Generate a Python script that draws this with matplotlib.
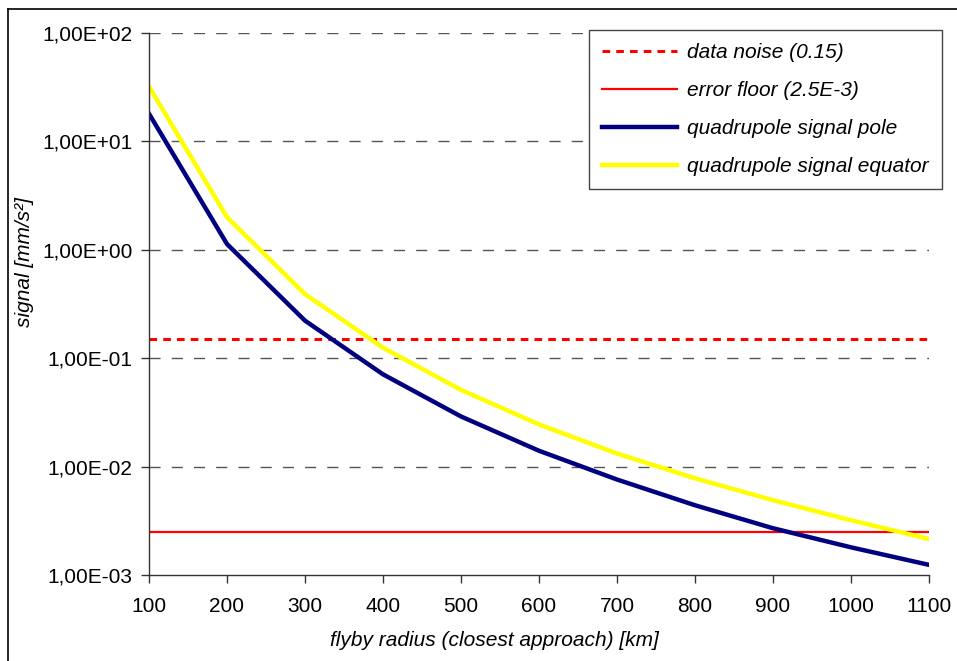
import matplotlib.pyplot as plt
from matplotlib.lines import Line2D
from matplotlib.ticker import FixedLocator, FuncFormatter, NullLocator

plt.rcParams['font.family'] = ['Liberation Sans', 'DejaVu Sans']

# flyby radius [km]
radius = [100, 200, 300, 400, 500, 600, 700, 800, 900, 1000, 1100]
# signals [mm/s^2]
pole = [18.0, 1.13, 0.222, 0.071, 0.029, 0.0140, 0.0076, 0.0044, 0.0027, 0.0018, 0.00124]
equator = [32.0, 2.0, 0.39, 0.125, 0.051, 0.0245, 0.0132, 0.0078, 0.0049, 0.0032, 0.00215]
noise = 0.15
floor = 2.5e-3
decades = [1e-3, 1e-2, 1e-1, 1e0, 1e1, 1e2]

fig = plt.figure(figsize=(9.57, 6.61), dpi=100)
ax = fig.add_axes([149/957, 1-575/661, (929-149)/957, (575-33)/661])

# dashed gridlines, skipping the bottom one (that's the axis)
for d in decades[1:]:
    ax.axhline(d, color='#555555', ls=(0, (8, 8)), lw=1, zorder=0.5)

ax.plot(radius, [noise]*len(radius), color='#ff0000', lw=2.2, ls=(0, (2.5, 2)),
        label='data noise (0.15)')
ax.plot(radius, [floor]*len(radius), color='#ff0000', lw=1.6, label='error floor (2.5E-3)')
ax.plot(radius, pole, color='#000080', lw=3.2, label='quadrupole signal pole')
ax.plot(radius, equator, color='#ffff00', lw=3.2, label='quadrupole signal equator')

ax.set_yscale('log')
ax.set_ylim(1e-3, 1e2)
ax.set_xlim(100, 1100)
ax.xaxis.set_major_locator(FixedLocator(radius))
ax.yaxis.set_major_locator(FixedLocator(decades))
ax.yaxis.set_minor_locator(NullLocator())
ax.yaxis.set_major_formatter(FuncFormatter(lambda v, p: f"{v:.2E}".replace('.', ',')))
ax.tick_params(labelsize=15, direction='out', length=6, color='#333333', width=1)
ax.tick_params(axis='y', pad=6)
ax.tick_params(axis='x', pad=10)

for s in ['top', 'right']:
    ax.spines[s].set_visible(False)
for s in ['left', 'bottom']:
    ax.spines[s].set_color('#333333')
    ax.spines[s].set_linewidth(1)

fig.text(24/957, 1-262/661, 'signal [mm/s²]', rotation=90, style='italic',
         fontsize=15, ha='center', va='center')
fig.text(494/957, 1-640/661, 'flyby radius (closest approach) [km]', style='italic',
         fontsize=15, ha='center', va='center')

leg = ax.legend(loc='upper right', bbox_to_anchor=(942/957, 1-30/661),
                bbox_transform=fig.transFigure, prop={'style': 'italic', 'size': 15},
                frameon=True, fancybox=False, edgecolor='#444444', framealpha=1,
                handlelength=3.6, handletextpad=0.5, labelspacing=0.92,
                borderpad=0.62, borderaxespad=0)
leg.get_frame().set_linewidth(1)

# outer chart border
fig.add_artist(Line2D([8/957, 8/957], [0, 1-9/661], transform=fig.transFigure,
                      color='black', lw=1.2))
fig.add_artist(Line2D([8/957, 1], [1-9/661, 1-9/661], transform=fig.transFigure,
                      color='black', lw=1.2))

fig.savefig('out.png', dpi=100)
